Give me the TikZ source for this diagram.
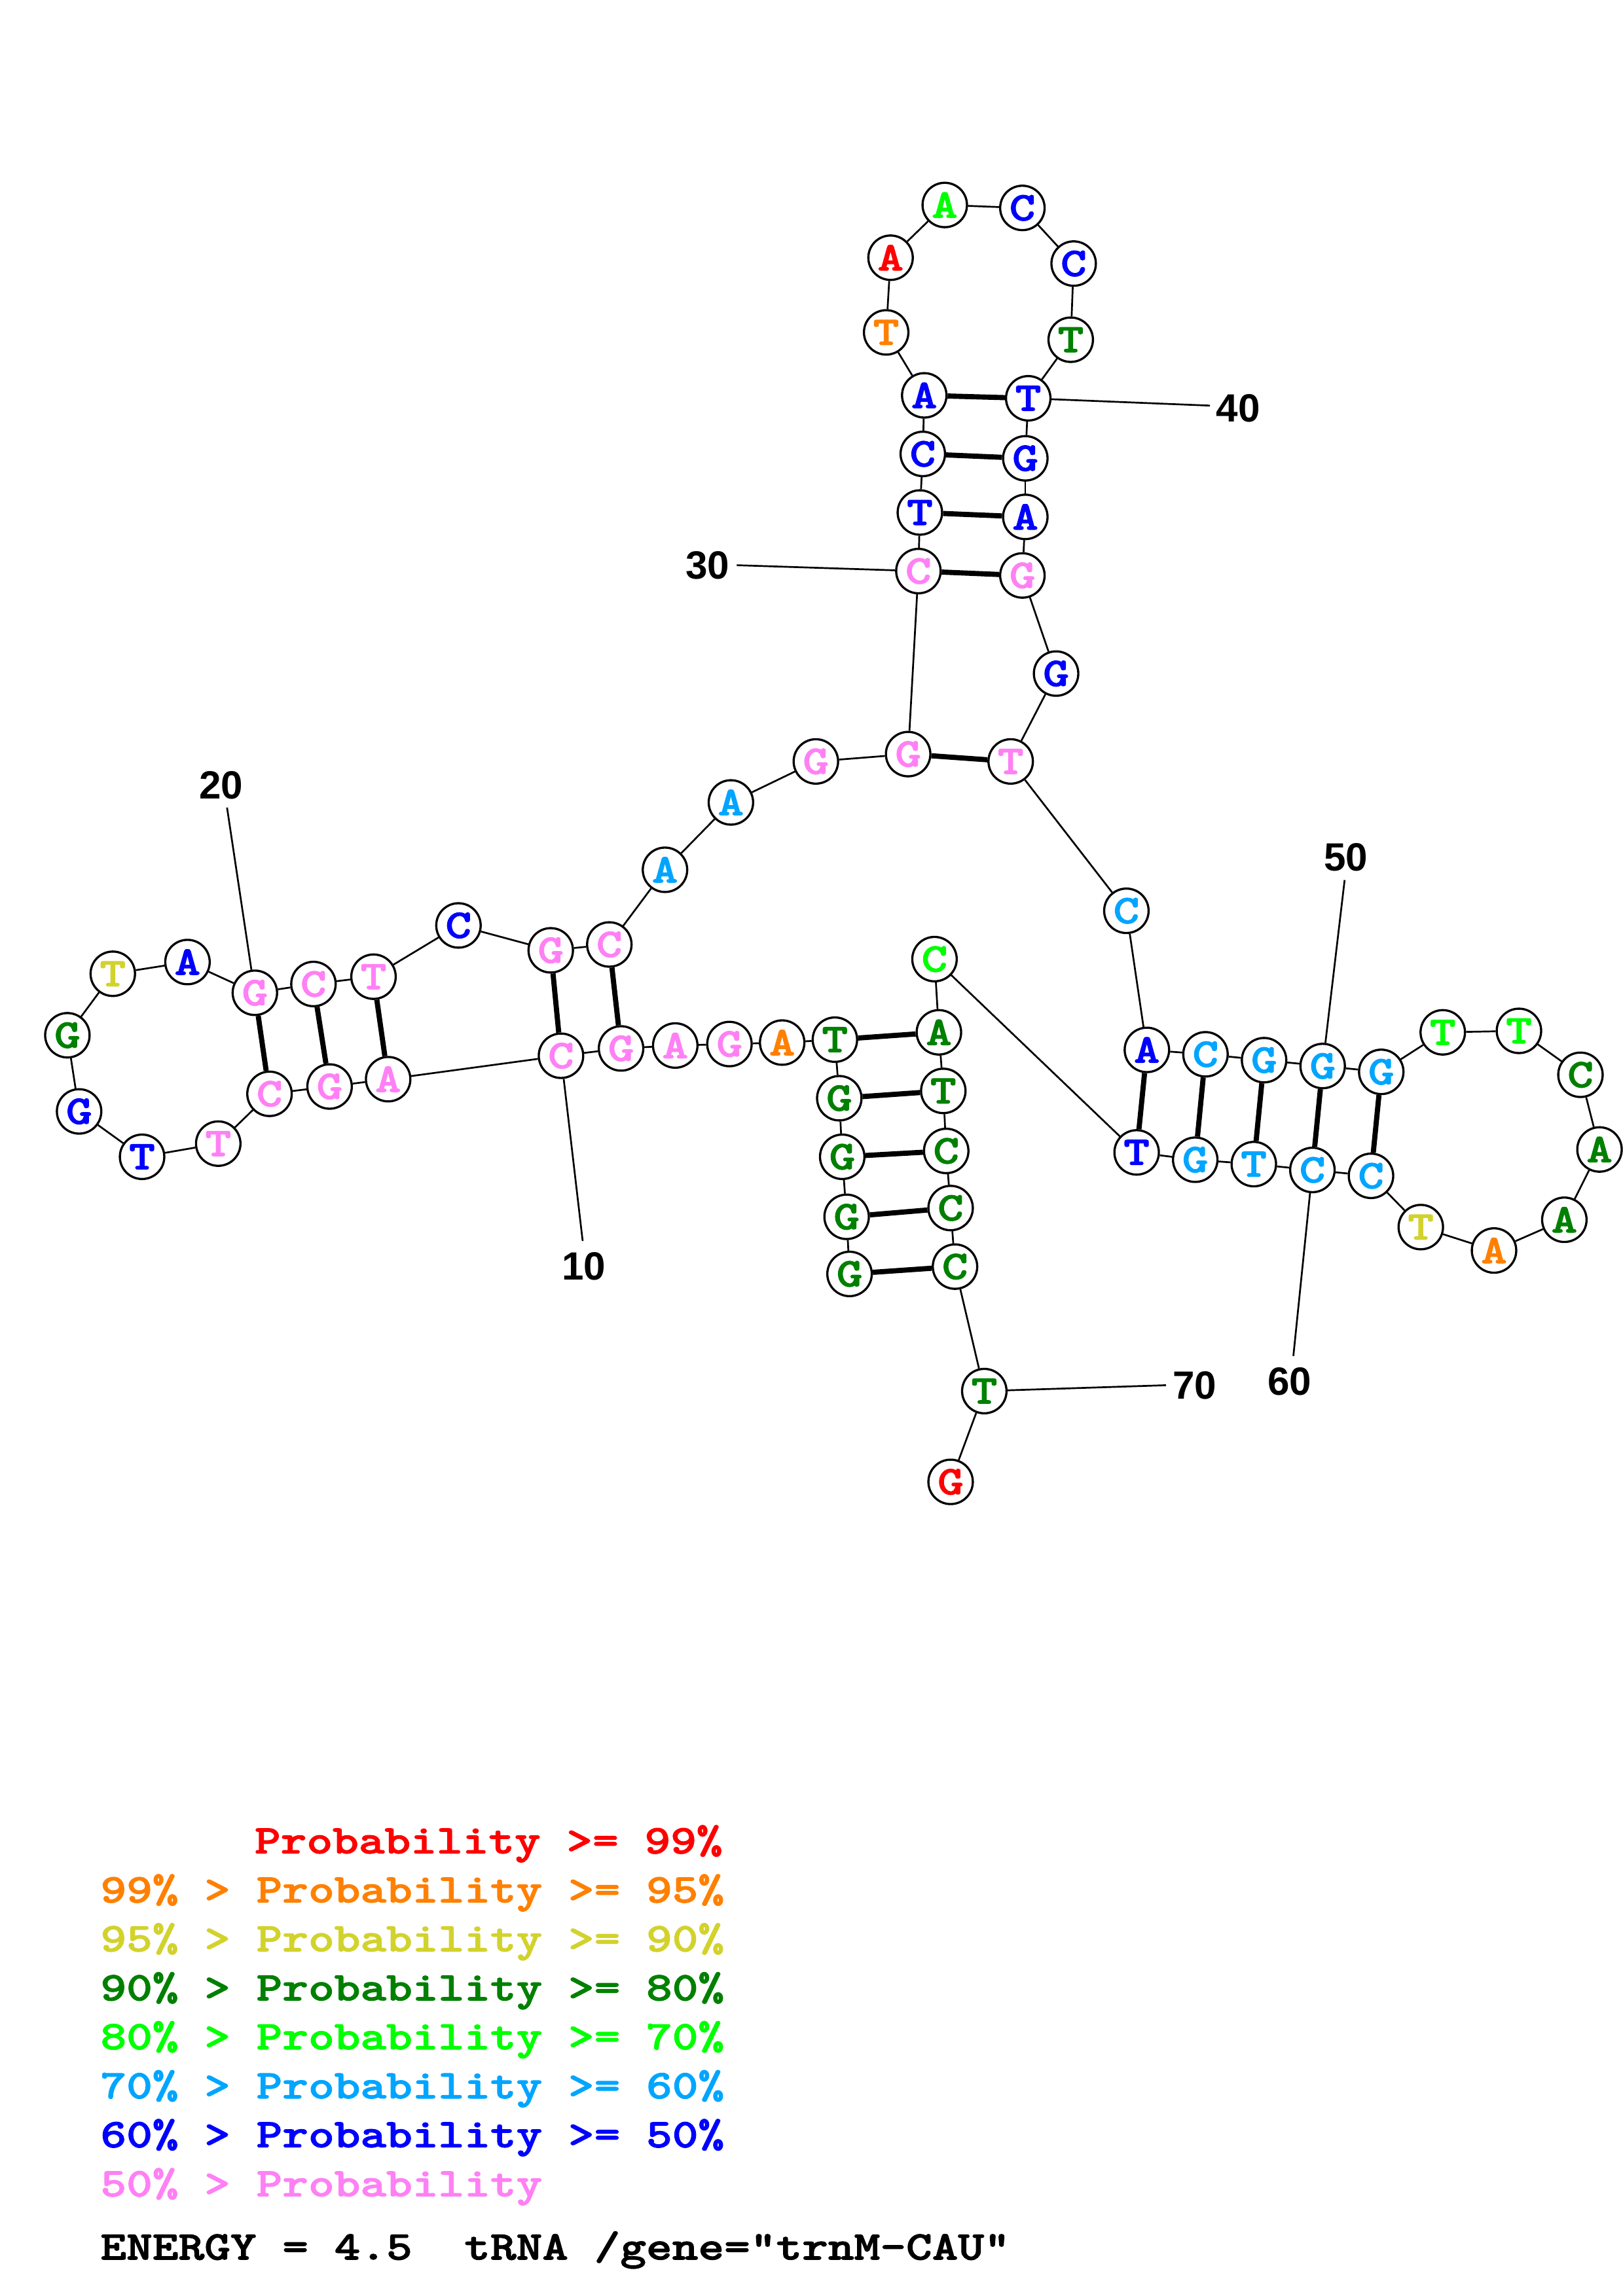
\documentclass[tikz,border=0pt]{standalone}
\usepackage{fontspec}
\usepackage{graphicx}
\newfontfamily\numfont{Liberation Sans}
\newfontfamily\courfont{lmmonolt10-bold.otf}[FakeBold=1.6]
\definecolor{pr99}{RGB}{255,0,0}
\definecolor{pr95}{RGB}{255,128,0}
\definecolor{pr90}{RGB}{210,210,45}
\definecolor{pr80}{RGB}{0,128,0}
\definecolor{pr70}{RGB}{0,255,0}
\definecolor{pr60}{RGB}{0,165,255}
\definecolor{pr50}{RGB}{0,0,255}
\definecolor{prlow}{RGB}{255,128,245}
\newcommand\nt[1]{\scalebox{1.215}[1]{#1}}
\tikzset{
  base/.style={circle, draw, line width=0.8pt, minimum size=5.75mm, inner sep=0pt,
    font=\fontsize{15}{15}\courfont},
  pair/.style={line width=1.9pt},
  num/.style={inner sep=0pt, font=\fontsize{14.5}{15}\numfont\bfseries},
  legend/.style={anchor=base west, inner sep=0pt, font=\fontsize{15}{15}\courfont}
}
\begin{document}
\begin{tikzpicture}[x=0.18953mm, y=-0.18953mm, line width=0.65pt]
        \useasboundingbox (0,0) rectangle (1108,1568);
        % bases, 5' to 3'
        \foreach \i/\px/\py/\b/\c in {
            1/580/870/G/pr80, 2/578/831/G/pr80, 3/575/790/G/pr80, 4/573/750/G/pr80,
            5/570/710/T/pr80, 6/534/712/A/pr95, 7/498/713/G/prlow, 8/461/714/A/prlow,
            9/424/716/G/prlow, 10/383/721/C/prlow, 11/265/737/A/prlow, 12/225/742/G/prlow,
            13/184/747/C/prlow, 14/149/781/T/prlow, 15/97/790/T/pr50, 16/54/759/G/pr50,
            17/46/707/G/pr80, 18/77/665/T/pr90, 19/128/657/A/pr50, 20/174/678/G/prlow,
            21/214/672/C/prlow, 22/255/667/T/prlow, 23/313/632/C/pr50, 24/376/649/G/prlow,
            25/416/645/C/prlow, 26/454/594/A/pr60, 27/499/548/A/pr60, 28/557/520/G/prlow,
            29/620/515/G/prlow, 30/627/390/C/prlow, 31/628/350/T/pr50, 32/630/310/C/pr50,
            33/631/270/A/pr50, 34/605/227/T/pr95, 35/608/176/A/pr99, 36/645/140/A/pr70,
            37/698/142/C/pr50, 38/733/180/C/pr50, 39/731/232/T/pr80, 40/702/272/T/pr50,
            41/700/313/G/pr50, 42/700/353/A/pr50, 43/698/393/G/prlow, 44/721/460/G/pr50,
            45/690/520/T/prlow, 46/769/622/C/pr60, 47/783/717/A/pr50, 48/823/720/C/pr60,
            49/863/724/G/pr60, 50/903/728/G/pr60, 51/943/732/G/pr60, 52/985/705/T/pr70,
            53/1037/704/T/pr70, 54/1079/734/C/pr80, 55/1092/785/A/pr80, 56/1068/833/A/pr80,
            57/1020/854/A/pr95, 58/970/838/T/pr90, 59/936/803/C/pr60, 60/896/799/C/pr60,
            61/856/795/T/pr60, 62/816/792/G/pr60, 63/776/787/T/pr50, 64/638/655/C/pr70,
            65/641/705/A/pr80, 66/644/745/T/pr80, 67/646/786/C/pr80, 68/649/825/C/pr80,
            69/652/865/C/pr80, 70/672/950/T/pr80, 71/649/1012/G/pr99}
          \node[base, text=\c] (n\i) at (\px,\py) {\nt{\b}};
        % backbone
        \foreach \i [evaluate=\i as \j using int(\i+1)] in {1,...,70}
          \draw (n\i) -- (n\j);
        % base pairs
        \foreach \a/\b in {1/69, 2/68, 3/67, 4/66, 5/65, 9/25, 10/24, 11/22, 12/21, 13/20,
            29/45, 30/43, 31/42, 32/41, 33/40, 47/63, 48/62, 49/61, 50/60, 51/59}
          \draw[pair] (n\a) -- (n\b);
        % position ticks and numbers
        \coordinate (t10) at (397.8,847.5);
        \coordinate (t20) at (155,551.5);
        \coordinate (t30) at (503,386);
        \coordinate (t40) at (826,277);
        \coordinate (t50) at (918,601);
        \coordinate (t60) at (883,926);
        \coordinate (t70) at (796,946);
        \foreach \k in {10,20,...,70}
          \draw (n\k) -- (t\k);
        \node[num] (lab10) at (398.6,865) {10};
        \node[num] (lab20) at (151,536.5) {20};
        \node[num] (lab30) at (483,386) {30};
        \node[num] (lab40) at (845.4,279) {40};
        \node[num] (lab50) at (918.8,585.6) {50};
        \node[num] (lab60) at (880.5,943.5) {60};
        \node[num] (lab70) at (815.5,946) {70};
        % legend
        \node[legend, text=pr99] (leg99) at (173.3,1265.7) {\nt{Probability >= 99\%}};
        \node[legend, text=pr95] (leg95) at (68,1299.2) {\nt{99\% > Probability >= 95\%}};
        \node[legend, text=pr90] (leg90) at (68,1332.6) {\nt{95\% > Probability >= 90\%}};
        \node[legend, text=pr80] (leg80) at (68,1366.1) {\nt{90\% > Probability >= 80\%}};
        \node[legend, text=pr70] (leg70) at (68,1399.5) {\nt{80\% > Probability >= 70\%}};
        \node[legend, text=pr60] (leg60) at (68,1433) {\nt{70\% > Probability >= 60\%}};
        \node[legend, text=pr50] (leg50) at (68,1466.4) {\nt{60\% > Probability >= 50\%}};
        \node[legend, text=prlow] (leglow) at (68,1499.9) {\nt{50\% > Probability}};
        \node[legend] (energy) at (68,1543.1) {\nt{ENERGY = 4.5~~tRNA /gene="trnM-CAU"}};
    \end{tikzpicture}
\end{document}
